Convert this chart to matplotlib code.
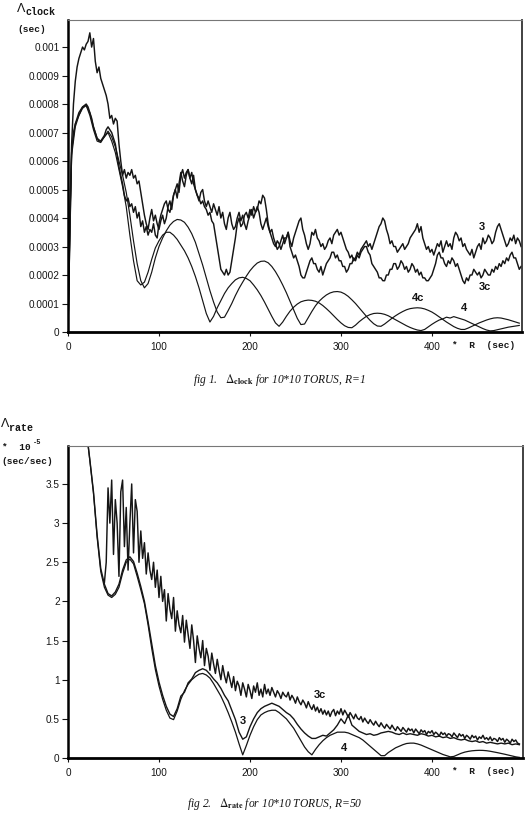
import numpy as np
import matplotlib
matplotlib.use("Agg")
import matplotlib.pyplot as plt

plt.rcParams['font.family'] = ['Liberation Sans', 'DejaVu Sans']
plt.rcParams['mathtext.fontset'] = 'stix'

# ---------------- data: fig 1 (Delta_clock, units of 1e-5 sec) ----------------
x_top = np.arange(0, 500, 4)
clock_4 = [0, 64, 73, 76, 79, 79.5, 76, 71, 67, 66.5,
           68.5, 70, 67, 63, 57, 51, 44, 34, 25, 18,
           16.5, 17.5, 21, 25.5, 29.5, 32, 34, 35, 35, 34,
           32.5, 30.5, 28.5, 26, 23, 19.5, 15.5, 11, 6.5, 3.5,
           5.5, 8.5, 11, 13.5, 15.5, 17, 18.3, 19, 19.2, 18.8,
           18, 16.5, 14.8, 12.8, 10.5, 8, 5.5, 3.2, 2, 3.5,
           5.5, 7.3, 8.7, 9.8, 10.6, 11, 11.2, 11.1, 10.8, 10.2,
           9.3, 8.2, 7, 5.7, 4.4, 3.2, 2.2, 1.6, 1.5, 2.4,
           3.6, 4.6, 5.5, 6.1, 6.5, 6.6, 6.5, 6.2, 5.7, 5,
           4.3, 3.6, 2.9, 2.2, 1.6, 1.1, 0.7, 0.5, 0.9, 1.8,
           2.7, 3.5, 4.2, 4.6, 5.2, 4.9, 5.4, 5, 4.6, 4.2,
           3.6, 3, 2.4, 1.8, 1.2, 0.7, 0.4, 0.5, 0.8, 1.1,
           1.4, 1.7, 1.9, 2.1, 2.3]
clock_4c = [0, 62, 72, 76, 78.5, 79.5, 77, 72, 68, 67,
            68.5, 70.5, 68.5, 65, 60, 55, 49, 41, 32, 24,
            18, 15.5, 17, 21, 26, 30, 33, 35.5, 37.5, 38.8,
            39.5, 39.3, 38.5, 36.8, 34.5, 31.5, 27.5, 23.5, 19, 14.5,
            10.5, 7, 5, 5.2, 7.5, 10, 12.8, 15.3, 17.5, 19.6,
            21.5, 23, 24.2, 24.8, 24.9, 24.3, 23, 21.2, 19, 16.5,
            13.8, 10.8, 7.8, 4.8, 2.6, 2.8, 5, 7.2, 9.2, 10.8,
            12, 13, 13.7, 14.1, 14.2, 14, 13.4, 12.5, 11.3, 10,
            8.5, 7, 5.5, 4.1, 2.9, 2.1, 2, 2.8, 3.8, 4.8,
            5.7, 6.5, 7.2, 7.8, 8.2, 8.4, 8.5, 8.4, 8.1, 7.6,
            7, 6.2, 5.3, 4.4, 3.5, 2.7, 1.9, 1.3, 0.9, 0.9,
            1.4, 2, 2.6, 3.2, 3.7, 4.2, 4.6, 4.9, 5, 4.9,
            4.6, 4.3, 3.9, 3.5, 3.1]
x_top_noisy = np.arange(0, 500, 2)
clock_3 = [0, 40, 66, 80, 88, 93, 96, 98, 100, 99,
           101, 102, 105, 100, 103, 95, 91, 93, 89, 87,
           85, 83, 80, 75, 76, 73, 75, 74, 66, 60,
           55, 57, 54, 56, 55, 57, 54, 55, 52, 53,
           49, 45, 41, 38, 36, 40, 43, 39, 41, 38,
           36, 39, 41, 38, 40, 44, 46, 43, 48, 50,
           47, 52, 56, 53, 51, 55, 57, 54, 56, 52,
           50, 48, 46, 49, 50, 46, 44, 46, 44, 42,
           45, 43, 41, 44, 40, 42, 38, 36, 40, 42,
           38, 36, 37, 40, 42, 39, 41, 38, 36, 39,
           41, 43, 40, 42, 44, 42, 38, 36, 38, 40,
           37, 35, 36, 33, 31, 29, 30, 32, 34, 31,
           33, 35, 32, 30, 33, 35, 37, 39, 40, 36,
           34, 31, 29, 31, 35, 34, 36, 33, 32, 30,
           31, 29, 30, 32, 33, 31, 34, 35, 36, 34,
           35, 33, 31, 29, 28, 26, 27, 25, 26, 28,
           27, 29, 30, 31, 32, 30, 31, 29, 31, 33,
           35, 37, 38, 40, 39, 36, 34, 31, 32, 30,
           30, 28, 29, 30, 31, 29, 30, 31, 33, 34,
           35, 36, 38, 35, 37, 33, 31, 29, 30, 28,
           29, 27, 29, 31, 30, 32, 28, 30, 32, 30,
           31, 29, 33, 35, 34, 32, 33, 30, 31, 29,
           28, 27, 29, 26, 28, 30, 31, 29, 33, 31,
           32, 34, 33, 31, 32, 35, 37, 38, 36, 34,
           32, 30, 31, 33, 32, 34, 31, 33, 32, 30]
clock_3c = [0, 40, 63, 70, 73, 75, 77, 78, 79, 79.5,
            80, 79, 77, 75, 72, 70, 68, 67, 67, 68,
            69, 71, 72, 71, 70, 68, 66, 62, 58, 55,
            52, 48, 46, 47, 44, 45, 42, 44, 40, 42,
            37, 39, 35, 37, 34, 36, 35, 38, 34, 33,
            38, 41, 43, 45, 46, 43, 42, 45, 48, 50,
            52, 49, 55, 57, 54, 56, 57, 54, 52, 55,
            50, 48, 47, 45, 46, 44, 43, 41, 42, 39,
            38, 34, 30, 26, 22, 21, 20, 22, 20, 21,
            25, 29, 33, 38, 40, 37, 38, 41, 42, 40,
            43, 41, 44, 42, 43, 46, 45, 48, 47, 43,
            38, 35, 33, 31, 30, 32, 31, 29, 31, 33,
            33, 35, 30, 28, 26, 27, 25, 23, 20, 19,
            19, 21, 23, 25, 26, 24, 24, 22, 21, 23,
            20, 22, 24, 25, 26, 28, 28, 26, 27, 25,
            25, 23, 23, 21, 22, 24, 24, 26, 25, 27,
            26, 28, 29, 30, 30, 28, 27, 24, 23, 22,
            21, 19, 19, 18, 18, 20, 20, 22, 22, 24,
            24, 22, 23, 25, 24, 22, 23, 21, 22, 24,
            23, 21, 22, 20, 21, 19, 19, 18, 18, 19,
            20, 22, 24, 27, 28, 26, 26, 24, 23, 25,
            24, 26, 25, 23, 24, 22, 20, 18, 17, 19,
            18, 20, 20, 22, 21, 20, 21, 19, 20, 22,
            21, 20, 20, 22, 21, 23, 22, 24, 23, 25,
            24, 26, 25, 27, 28, 26, 26, 24, 22, 23]

# ---------------- data: fig 2 (Delta_rate, units of 0.01 * 1e-5 sec/sec) ----------------
x_bot = np.arange(0, 500, 4)
rate_4 = [640, 590, 540, 500, 460, 420, 380, 338, 282, 238,
          218, 208, 205, 209, 218, 236, 250, 254, 248, 232,
          215, 197, 170, 140, 113, 92, 75, 61, 51, 49,
          60, 75, 86, 94, 100, 104, 107, 108, 106, 102,
          95, 87, 79, 69, 58, 46, 33, 18, 4, 16,
          29, 40, 49, 55, 58, 60, 61, 61, 58, 54,
          50, 44, 38, 30, 22, 14, 8, 4, 11, 17,
          22, 26, 29, 31, 33, 33, 33, 32, 30, 28,
          26, 23, 19, 15, 11, 7, 3, 3, 7, 10,
          13, 15, 17, 18.5, 19, 19, 18, 16.5, 14.5, 12.5,
          10.5, 8.5, 6.5, 4.5, 3, 1.5, 2, 4, 6, 7.5,
          8.5, 9.2, 9.6, 9.8, 9.7, 9.3, 8.6, 7.7, 6.8, 5.8,
          4.8, 3.7, 2.6, 1.5, 0.8]
rate_3 = [640, 590, 540, 500, 460, 420, 381, 340, 285, 242,
          222, 210, 207, 212, 222, 240, 253, 257, 251, 236,
          219, 200, 174, 146, 118, 97, 80, 66, 56, 53,
          63, 79, 84, 96, 101, 109, 112, 114, 112, 107,
          101, 96, 89, 80, 73, 61, 49, 33, 24, 27,
          40, 50, 58, 63, 66, 68, 70, 68, 66, 62,
          58, 55, 50, 43, 37, 32, 28, 25, 25, 27,
          29, 28, 32, 36, 42, 50, 44, 55, 42, 38,
          34, 32, 30, 31, 29, 30, 32, 33, 34, 33,
          31, 30, 32, 30, 31, 30, 29, 31, 30, 28,
          29, 27, 28, 26, 27, 25, 26, 24, 23, 24,
          22, 21, 22, 20, 21, 19, 20, 19, 18, 19,
          18, 19, 17, 18, 17]
x_bot_3c = np.arange(40, 498, 2)
rate_3c = [224, 250, 345, 300, 355, 260, 330, 300, 232, 340,
           355, 270, 320, 240, 300, 350, 262, 330, 315, 250,
           290, 255, 275, 235, 262, 240, 228, 250, 218, 240,
           205, 232, 200, 215, 175, 210, 190, 178, 205, 162,
           188, 170, 160, 182, 148, 176, 158, 140, 170, 150,
           122, 156, 140, 128, 150, 118, 140, 130, 112, 134,
           120, 108, 126, 112, 100, 118, 105, 96, 110, 100,
           90, 104, 86, 98, 92, 80, 96, 88, 78, 94,
           86, 76, 92, 84, 96, 80, 88, 78, 94, 82,
           88, 80, 90, 84, 78, 86, 82, 76, 84, 80,
           78, 84, 74, 80, 76, 70, 78, 72, 68, 74,
           70, 64, 72, 66, 62, 68, 60, 65, 58, 63,
           56, 61, 55, 60, 53, 59, 62, 54, 60, 56,
           63, 55, 61, 57, 52, 58, 54, 50, 56, 51,
           49, 53, 46, 51, 47, 44, 49, 45, 42, 47,
           43, 40, 45, 41, 38, 43, 40, 37, 42, 38,
           35, 40, 37, 34, 39, 36, 33, 38, 35, 37,
           32, 37, 34, 31, 36, 33, 35, 30, 34, 32,
           35, 30, 33, 31, 28, 33, 30, 32, 28, 31,
           30, 27, 32, 29, 26, 31, 28, 30, 25, 29,
           27, 24, 29, 26, 28, 23, 27, 25, 29, 24,
           26, 23, 27, 22, 25, 24, 21, 26, 23, 25,
           20, 24, 22, 19, 24, 21, 23, 19, 18]

xticks = [0, 100, 200, 300, 400]
top_yticks = [0, 0.0001, 0.0002, 0.0003, 0.0004, 0.0005, 0.0006, 0.0007, 0.0008, 0.0009, 0.001]
top_ylabels = ["0", "0.0001", "0.0002", "0.0003", "0.0004", "0.0005",
               "0.0006", "0.0007", "0.0008", "0.0009", "0.001"]
bot_yticks = [0, 0.5, 1, 1.5, 2, 2.5, 3, 3.5]
bot_ylabels = ["0", "0.5", "1", "1.5", "2", "2.5", "3", "3.5"]

INK = '#151515'
W, H = 530, 840
fig = plt.figure(figsize=(W / 100, H / 100), dpi=100)


def frac(px, py):
    return px / W, 1 - py / H


ax1 = fig.add_axes([68 / W, 1 - 332 / H, 454 / W, 312 / H])
ax2 = fig.add_axes([68 / W, 1 - 758 / H, 455 / W, 312 / H])


def style(ax, yt, yl):
    ax.spines['left'].set_linewidth(1.8)
    ax.spines['bottom'].set_linewidth(2.0)
    ax.spines['top'].set_linewidth(0.8)
    ax.spines['top'].set_color('#777777')
    ax.spines['right'].set_linewidth(1.3)
    ax.spines['right'].set_color('#333333')
    ax.set_xticks(xticks)
    ax.set_xticklabels([str(t) for t in xticks])
    ax.set_yticks(yt)
    ax.set_yticklabels(yl)
    ax.tick_params(axis='y', direction='out', length=4, width=0.8, labelsize=7.2, pad=2,
                   colors=INK)
    ax.tick_params(axis='x', direction='out', length=3, width=0.8, labelsize=7.2, pad=4,
                   colors=INK)


# ---- figure 1 ----
ax1.plot(x_top, np.array(clock_4) * 1e-5, color=INK, lw=0.85)
ax1.plot(x_top, np.array(clock_4c) * 1e-5, color=INK, lw=0.85)
ax1.plot(x_top_noisy, np.array(clock_3c) * 1e-5, color=INK, lw=1.05)
ax1.plot(x_top_noisy, np.array(clock_3) * 1e-5, color=INK, lw=1.05)
ax1.set_xlim(0, 499)
ax1.set_ylim(0, 0.001095)
style(ax1, top_yticks, top_ylabels)
lab = dict(fontsize=8, fontweight='bold', color=INK, ha='center', va='center')
ax1.text(455, 0.000368, "3", **lab)
ax1.text(458, 0.000158, "3c", **lab)
ax1.text(385, 0.000119, "4c", **lab)
ax1.text(435, 0.000084, "4", **lab)

# ---- figure 2 ----
ax2.plot(x_bot, np.array(rate_4) / 100, color=INK, lw=0.9)
ax2.plot(x_bot, np.array(rate_3) / 100, color=INK, lw=1.0)
ax2.plot(x_bot_3c, np.array(rate_3c) / 100, color=INK, lw=1.05)
ax2.set_xlim(0, 500)
ax2.set_ylim(0, 3.985)
style(ax2, bot_yticks, bot_ylabels)
ax2.text(192, 0.47, "3", **lab)
ax2.text(277, 0.80, "3c", **lab)
ax2.text(303, 0.13, "4", **lab)

mono = dict(family=['Liberation Mono', 'DejaVu Sans Mono'], fontweight='bold', color=INK)

# axis titles
fig.text(*frac(17, 9), "Λ", fontsize=9, va='center', ha='left', color=INK)
fig.text(*frac(25, 12), "clock", fontsize=7.2, va='center', ha='left', **mono)
fig.text(*frac(17, 30), "(sec)", fontsize=6.8, va='center', ha='left', **mono)
fig.text(*frac(452, 345.5), "*  R  (sec)", fontsize=6.8, va='center', ha='left', **mono)

fig.text(*frac(1, 424), "Λ", fontsize=9, va='center', ha='left', color=INK)
fig.text(*frac(9, 428), "rate", fontsize=7.2, va='center', ha='left', **mono)
fig.text(*frac(2, 448), "*  10", fontsize=6.8, va='center', ha='left', **mono)
fig.text(*frac(33, 443), "-5", fontsize=5, va='center', ha='left', **mono)
fig.text(*frac(1, 461), "(sec/sec)", fontsize=6.8, va='center', ha='left', **mono)
fig.text(*frac(452, 772), "*  R  (sec)", fontsize=6.8, va='center', ha='left', **mono)

# captions
cap = dict(family=['Liberation Serif', 'DejaVu Serif'], fontstyle='italic', fontsize=8.3,
           color=INK, ha='center', va='center')
fig.text(*frac(279, 380), r"fig 1.   $\Delta_{\mathbf{clock}}$ for 10*10 TORUS, R=1", **cap)
fig.text(*frac(275, 804), r"fig 2.   $\Delta_{\mathbf{rate}}$ for 10*10 TORUS, R=50", **cap)

fig.savefig("out.png", dpi=100, facecolor='white')
